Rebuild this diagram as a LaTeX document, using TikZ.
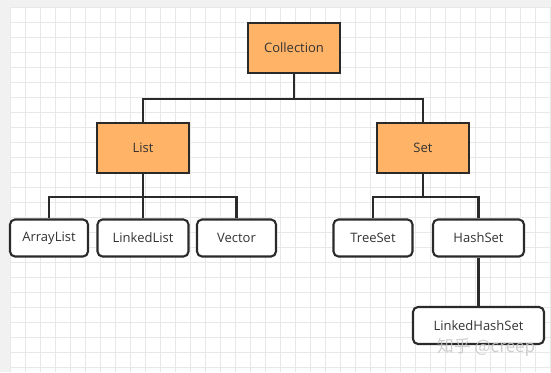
\documentclass[tikz,border=0pt]{standalone}
\usepackage{fontspec}
\setmainfont{Open Sans}
\newfontfamily\cjk{Noto Sans CJK SC}
\definecolor{orangefill}{HTML}{FFB366}
\definecolor{edge}{HTML}{2A2A2A}
\definecolor{txt}{HTML}{333333}
\definecolor{gridc}{HTML}{E8E8E8}
\definecolor{margin}{HTML}{F1F1F1}
\begin{document}
\begin{tikzpicture}[x=1pt,y=-1pt,
  base/.style={draw=edge,line width=2.1pt,text=txt,font=\fontsize{13}{15}\selectfont,inner sep=0pt},
  sq/.style={base,fill=orangefill,minimum width=92pt,minimum height=50pt},
  rb/.style={base,fill=white,rounded corners=5pt,minimum height=37pt},
  conn/.style={draw=edge,line width=2.1pt}]
\useasboundingbox (0,0) rectangle (551,372);
\fill[margin] (0,0) rectangle (551,372);
\fill[white] (10.6,7.3) rectangle (551,372);
\foreach \i in {0,...,36} {\draw[gridc,line width=0.9pt] (10.6+15*\i,7.3) -- (10.6+15*\i,372);}
\foreach \j in {0,...,24} {\draw[gridc,line width=0.9pt] (10.6,7.3+15*\j) -- (551,7.3+15*\j);}
\node[sq] (coll) at (294,48) {Collection};
\node[sq] (list) at (143,148) {List};
\node[sq] (set) at (423,148) {Set};
\node[rb,minimum width=78pt] (arr) at (49,238) {ArrayList};
\node[rb,minimum width=91pt] (lnk) at (143,238) {LinkedList};
\node[rb,minimum width=79pt] (vec) at (236.5,238) {Vector};
\node[rb,minimum width=79pt] (tree) at (373,238) {TreeSet};
\node[rb,minimum width=91pt] (hash) at (478.5,238) {HashSet};
\node[rb,minimum width=131pt] (lhs) at (478.5,325.5) {LinkedHashSet};
\coordinate (j1) at (294,99);
\coordinate (j2) at (143,197);
\coordinate (j3) at (423,197);
\draw[conn] (coll.south) -- (j1) -| (list.north);
\draw[conn] (j1) -| (set.north);
\draw[conn] (list.south) -- (j2) -| (arr.north);
\draw[conn] (j2) -| (vec.north);
\draw[conn] (j2) -- (lnk.north);
\draw[conn] (set.south) -- (j3) -| (tree.north);
\draw[conn] (j3) -| (hash.north);
\draw[conn] (hash.south) -- (lhs.north);
\node[text=gray!45,opacity=0.85,font=\cjk\fontsize{17}{20}\selectfont,inner sep=0pt] (wm) at (486,347) {知乎 @creep};
\end{tikzpicture}
\end{document}
